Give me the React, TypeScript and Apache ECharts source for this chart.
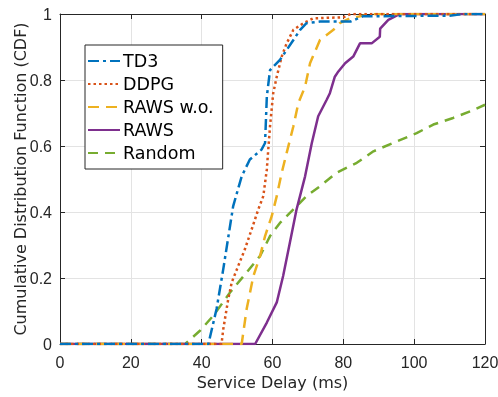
import React, { useEffect, useRef } from "react";
import * as echarts from "echarts";

const seriesNames = ["TD3", "DDPG", "RAWS w.o.", "RAWS", "Random"];

const td3X = [0, 41.9, 44.2, 46.1, 48, 48.9, 51.3, 53.6, 56.9, 57.9, 58.4, 59.3, 62.1, 64, 65.9, 67.8, 69.6, 73.4, 82, 85.5, 110, 114, 120];
const td3Y = [0, 0, 0.106, 0.227, 0.357, 0.418, 0.508, 0.559, 0.589, 0.609, 0.75, 0.83, 0.861, 0.891, 0.921, 0.952, 0.972, 0.977, 0.977, 0.993, 0.995, 1, 1];

const ddpgX = [0, 45.6, 46.1, 47.5, 48.5, 50.3, 52.2, 54.1, 56, 57.4, 58.4, 58.8, 59.3, 60.2, 61.2, 62.6, 64, 65.9, 68.7, 71.5, 80, 82, 120];
const ddpgY = [0, 0, 0.045, 0.136, 0.187, 0.236, 0.287, 0.347, 0.408, 0.448, 0.529, 0.589, 0.66, 0.76, 0.81, 0.871, 0.911, 0.952, 0.972, 0.987, 0.99, 1, 1];

const rawsWoX = [0, 51.3, 52.7, 54.6, 56.5, 57.9, 59.8, 61.2, 62.6, 64, 65.9, 67.3, 69.2, 70.6, 73.4, 77.2, 79, 81.9, 88, 120];
const rawsWoY = [0, 0, 0.106, 0.206, 0.267, 0.327, 0.388, 0.448, 0.519, 0.579, 0.66, 0.73, 0.78, 0.851, 0.921, 0.952, 0.972, 0.987, 1, 1];

const rawsX = [0, 55.1, 58.4, 61.2, 63, 64.9, 66.8, 69.2, 71.1, 72.9, 75.3, 76.2, 77.6, 78.6, 80.5, 82.8, 84.7, 88, 90.3, 90.4, 92.7, 96, 120];
const rawsY = [0, 0, 0.065, 0.126, 0.206, 0.307, 0.408, 0.508, 0.609, 0.69, 0.74, 0.76, 0.81, 0.826, 0.851, 0.871, 0.911, 0.911, 0.931, 0.956, 0.982, 1, 1];

const randomX = [0, 35.3, 39.5, 43.3, 48, 52.7, 56.5, 59.3, 62.1, 65.9, 69.6, 73.4, 78.1, 83.8, 88.5, 95.1, 100.7, 105.4, 111, 115.8, 120];
const randomY = [0, 0, 0.04, 0.086, 0.156, 0.217, 0.267, 0.327, 0.367, 0.408, 0.448, 0.478, 0.519, 0.549, 0.584, 0.614, 0.639, 0.665, 0.685, 0.705, 0.725];

const xTicks = [0, 20, 40, 60, 80, 100, 120];
const yTicks = [0, 0.2, 0.4, 0.6, 0.8, 1];

const colors = ["#0072BD", "#D95319", "#EDB120", "#7E2F8E", "#77AC30"];
const dashes: any[] = [[11, 4, 3, 4], [2.5, 3], [11, 7], "solid", [10, 7]];

const TICK_FONT = "'Liberation Sans', Arial, Helvetica, sans-serif";
const NAME_FONT = "'DejaVu Sans', 'Liberation Sans', sans-serif";

function pairs(xs: number[], ys: number[]) {
  return xs.map((x, i) => [x, ys[i]]);
}

export default function App() {
  const ref = useRef<HTMLDivElement>(null);
  useEffect(() => {
    if (!ref.current) return;
    const chart = echarts.init(ref.current, undefined, { renderer: "svg" });
    const datasets = [
      pairs(td3X, td3Y),
      pairs(ddpgX, ddpgY),
      pairs(rawsWoX, rawsWoY),
      pairs(rawsX, rawsY),
      pairs(randomX, randomY),
    ];
    const axisCommon = {
      type: "value" as const,
      axisLine: { show: true, onZero: false, lineStyle: { color: "#262626", width: 1 } },
      axisTick: { show: true, inside: true, length: 5, lineStyle: { color: "#262626" } },
    };
    chart.setOption({
      animation: false,
      grid: { left: 60, right: 13, top: 14, bottom: 53, containLabel: false, outerBoundsMode: "none" },
      xAxis: [
        {
          ...axisCommon,
          min: 0,
          max: 120,
          interval: 20,
          name: "Service Delay (ms)",
          nameLocation: "middle",
          nameGap: 30,
          nameMoveOverlap: false,
          nameTextStyle: { fontFamily: NAME_FONT, fontSize: 16, color: "#262626" },
          axisLabel: { fontFamily: TICK_FONT, fontSize: 16, color: "#262626", margin: 10, formatter: (v: number) => (xTicks.includes(v) ? String(v) : "") },
          splitLine: { show: true, lineStyle: { color: "#e3e3e3", width: 1 } },
        },
        {
          ...axisCommon,
          position: "top",
          min: 0,
          max: 120,
          interval: 20,
          axisLabel: { show: false },
          splitLine: { show: false },
        },
      ],
      yAxis: [
        {
          ...axisCommon,
          min: 0,
          max: 1,
          interval: 0.2,
          name: "Cumulative Distribution Function (CDF)",
          nameLocation: "middle",
          nameGap: 32,
          nameMoveOverlap: false,
          nameTextStyle: { fontFamily: NAME_FONT, fontSize: 16, color: "#262626" },
          axisLabel: {
            fontFamily: TICK_FONT,
            fontSize: 16,
            color: "#262626",
            margin: 8,
            formatter: (v: number) => {
              const r = Math.round(v * 10) / 10;
              return yTicks.some((t) => Math.abs(t - r) < 1e-9) ? String(r) : "";
            },
          },
          splitLine: { show: true, lineStyle: { color: "#e3e3e3", width: 1 } },
        },
        {
          ...axisCommon,
          position: "right",
          min: 0,
          max: 1,
          interval: 0.2,
          axisLabel: { show: false },
          splitLine: { show: false },
        },
      ],
      legend: {
        orient: "vertical",
        left: 85,
        top: 45,
        itemWidth: 32,
        itemHeight: 14,
        itemGap: 5,
        padding: [7, 9, 7, 2],
        backgroundColor: "#ffffff",
        borderColor: "#262626",
        borderWidth: 1,
        itemStyle: { opacity: 0 },
        textStyle: { fontFamily: NAME_FONT, fontSize: 17.5, color: "#000", padding: [0, 0, 0, -2] },
        data: seriesNames,
      },
      series: seriesNames.map((name, i) => ({
        name,
        type: "line",
        data: datasets[i],
        showSymbol: false,
        symbol: "none",
        color: colors[i],
        lineStyle: { color: colors[i], width: 2.5, type: dashes[i] },
        z: 10 - i,
      })),
    });
    return () => chart.dispose();
  }, []);
  return <div ref={ref} style={{ position: "fixed", left: 0, top: 0, width: 498, height: 397 }} />;
}
